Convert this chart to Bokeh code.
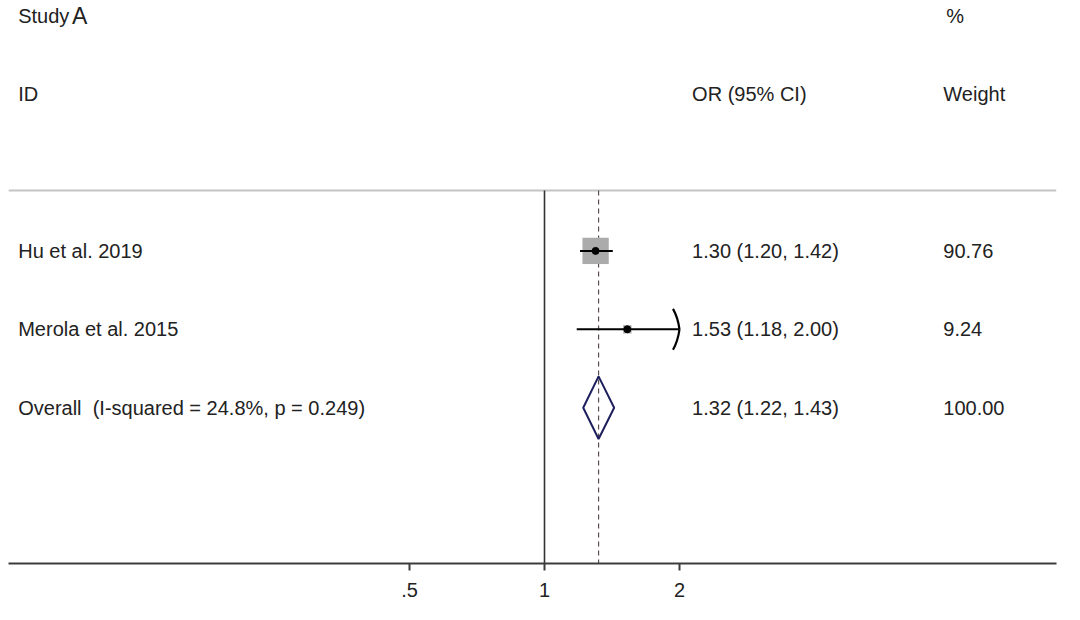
import math
from bokeh.plotting import figure
from bokeh.models import Range1d, LinearScale, FixedTicker, ColumnDataSource
from bokeh.core.properties import value
from bokeh.embed import file_html
from bokeh.resources import INLINE

# ---------------- data ----------------
studies = ["Hu et al. 2019", "Merola et al. 2015"]
or_est = [1.30, 1.53]
ci_low = [1.20, 1.18]
ci_high = [1.42, 2.00]
weights = [90.76, 9.24]

overall_label = "Overall \u00a0(I-squared = 24.8%, p = 0.249)"
overall_est = 1.32
overall_low = 1.22
overall_high = 1.43
overall_weight = 100.00

tick_values = [0.5, 1, 2]
tick_labels = [".5", "1", "2"]

# ---------------- layout ----------------
W, H = 1064, 604
BORDER_X = 8
FRAME_W = W - 2 * BORDER_X
FRAME_H = 563
PX_PER_DOUBLING = 135.0
ONE_PX = 536.0          # frame pixel of OR = 1
ROW_PX = 78.4
FIRST_ROW_PX = 250.4    # frame pixel of first study row

x_start = 2 ** (-ONE_PX / PX_PER_DOUBLING)
x_end = 2 ** ((FRAME_W - ONE_PX) / PX_PER_DOUBLING)
y_top = 1 - FIRST_ROW_PX / ROW_PX
y_bot = y_top + FRAME_H / ROW_PX
rule_y = 0.23

FONT = value("Liberation Sans")
TXT = "#222222"
FS = "20px"

p = figure(width=W, height=H, output_backend="svg", toolbar_location=None,
           x_axis_type="log", x_range=Range1d(x_start, x_end),
           y_range=Range1d(y_bot, y_top), y_axis_location=None,
           min_border_left=BORDER_X, min_border_right=BORDER_X, min_border_top=0,
           min_border_bottom=H - FRAME_H)
p.outline_line_color = None
p.xgrid.visible = False
p.ygrid.visible = False
p.background_fill_color = "white"
p.border_fill_color = "white"
p.extra_x_ranges = {"px": Range1d(0, FRAME_W)}
p.extra_x_scales = {"px": LinearScale()}

ax = p.xaxis[0]
ax.ticker = FixedTicker(ticks=tick_values, minor_ticks=[])
ax.major_label_overrides = {t: l for t, l in zip(tick_values, tick_labels)}
ax.axis_line_color = "#3c3c3c"
ax.axis_line_width = 2
ax.major_tick_line_color = "#3c3c3c"
ax.major_tick_line_width = 2
ax.major_tick_out = 7
ax.major_tick_in = 0
ax.minor_tick_line_color = None
ax.major_label_standoff = 12
ax.major_label_text_font = "Liberation Sans"
ax.major_label_text_font_size = "20px"
ax.major_label_text_color = TXT

rows = [i + 1 for i in range(len(studies))]
overall_row = len(studies) + 1

# rule under headers
p.line(x=[x_start, x_end], y=[rule_y, rule_y], line_color="#c4c4c4", line_width=2)

# null line and overall dashed line
p.line(x=[1, 1], y=[rule_y, y_bot], line_color="#333333", line_width=1.6)
p.line(x=[overall_est, overall_est], y=[rule_y, y_bot], line_color="#5a4c4c",
       line_width=1.2, line_dash="5 4")

# weight boxes (area proportional to weight)
box_k = 2.76
src = ColumnDataSource(dict(y=rows, est=or_est, lo=ci_low, hi=ci_high,
                            size=[box_k * math.sqrt(w) for w in weights]))
p.scatter(x="est", y="y", size="size", marker="square", source=src,
          fill_color="#ababab", line_color=None)

# CI lines
p.segment(x0="lo", y0="y", x1="hi", y1="y", source=src, line_color="black", line_width=2)
p.scatter(x="est", y="y", size=7, marker="circle", source=src,
          fill_color="black", line_color="black")

# arrows on CIs reaching the top tick
back = 2 ** (-6.5 / PX_PER_DOUBLING)
for r, hi in zip(rows, ci_high):
    if hi >= max(tick_values) - 1e-9:
        p.quadratic(x0=[hi * back, hi * back], y0=[r - 0.26, r + 0.26],
                    x1=[hi, hi], y1=[r, r],
                    cx=[hi * back ** 0.25, hi * back ** 0.25], cy=[r - 0.15, r + 0.15],
                    line_color="black", line_width=2.2)

# overall diamond
h = 0.40
p.patch(x=[overall_low, overall_est, overall_high, overall_est],
        y=[overall_row, overall_row - h, overall_row, overall_row + h],
        fill_color=None, line_color="#1c1f5c", line_width=2)

# ---------------- texts ----------------
LEFT_X, OR_X, W_X = 9.7, 683.6, 934.8

def txt(xs, ys, ts, size=FS):
    p.text(x=xs, y=ys, text=ts, x_range_name="px", text_font=FONT,
           text_font_size=size, text_baseline="middle", text_align="left",
           text_color=TXT)

txt([LEFT_X], [-2], ["Study"])
txt([63.5], [-2], ["A"], size="23px")
txt([937.8], [-2], ["%"])
txt([LEFT_X, OR_X, W_X], [-1, -1, -1], ["ID", "OR (95% CI)", "Weight"])

or_txt = [f"{e:.2f} ({l:.2f}, {u:.2f})" for e, l, u in zip(or_est, ci_low, ci_high)]
w_txt = [f"{w:.2f}" for w in weights]
txt([LEFT_X] * len(rows), rows, studies)
txt([OR_X] * len(rows), rows, or_txt)
txt([W_X] * len(rows), rows, w_txt)
txt([LEFT_X], [overall_row], [overall_label])
txt([OR_X], [overall_row], [f"{overall_est:.2f} ({overall_low:.2f}, {overall_high:.2f})"])
txt([W_X], [overall_row], [f"{overall_weight:.2f}"])

open("out.html", "w").write(file_html(p, INLINE))
